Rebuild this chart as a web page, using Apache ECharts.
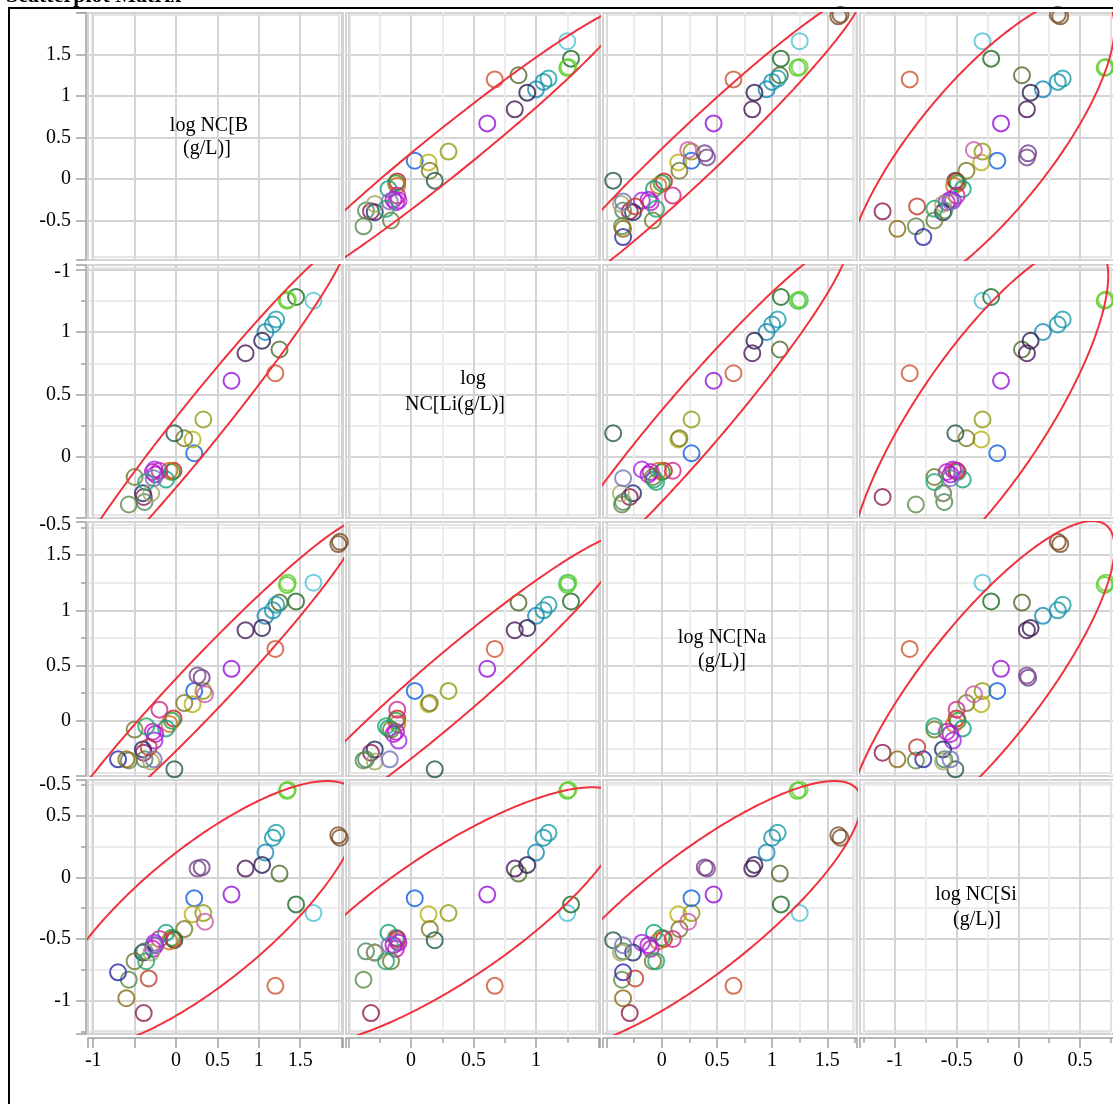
<!DOCTYPE html>
<html><head><meta charset="utf-8">
<script src="https://cdn.jsdelivr.net/npm/echarts@6/dist/echarts.min.js"></script>
<style>html,body{margin:0;padding:0;background:#fff}#c{width:1113px;height:1104px}</style>
</head><body><div id="c"></div>
<script>
// ---------- data ----------
const variableNames = ['B', 'Li', 'Na', 'Si'];
const pointColors = ['#50c0d4','#1a6a22','#50c820','#66d030','#4e6a28','#1a9ea8','#1794a8','#1888b4','#2c1c50','#4a1858',
  '#cc5530','#9410d8','#909a10','#1060e0','#b8b010','#7a7a28','#23564a','#7a4f2a','#7a4f2a','#6c3c8c',
  '#7b4a88','#c85aa8','#c81c1c','#239a35','#d07018','#12a080','#d0288c','#c814c8','#b010d8','#a428e8',
  '#1c2c6c','#8c1c50','#4a8a58','#a8a868','#7474b8','#6a7a30','#5a8a48','#20a870','#2828a8','#c03c2c','#8c6c10'];
const logB  = [1.66,1.45,1.34,1.35,1.25,1.21,1.17,1.08,1.04,0.84, 1.20,0.67,0.33,0.22,0.20,0.10,-0.02,1.96,1.98,0.31,
  0.26,0.35,-0.03,-0.05,-0.08,-0.12,-0.20,-0.28,-0.25,-0.26, -0.40,-0.39,-0.38,-0.30,-0.27,-0.50,-0.57,-0.36,-0.70,-0.33,-0.60];
const logLi = [1.25,1.28,1.25,1.26,0.86,1.10,1.06,1.00,0.93,0.83, 0.67,0.61,0.30,0.03,0.14,0.15,0.19,null,null,null,
  null,null,-0.11,-0.12,-0.11,-0.18,-0.11,-0.12,-0.14,-0.10, -0.29,-0.32,-0.36,-0.29,-0.17,-0.16,-0.38,-0.20,null,null,null];
const logNa = [1.25,1.08,1.23,1.25,1.07,1.05,1.00,0.95,0.84,0.82, 0.65,0.47,0.27,0.27,0.15,0.16,-0.44,1.60,1.62,0.39,
  0.41,0.24,0.02,0.00,-0.03,-0.07,0.10,-0.10,-0.12,-0.18, -0.26,-0.29,-0.35,-0.37,-0.35,-0.08,-0.36,-0.05,-0.35,-0.24,-0.35];
const logSi = [-0.29,-0.22,0.70,0.71,0.03,0.36,0.32,0.20,0.10,0.07, -0.88,-0.14,-0.29,-0.17,-0.30,-0.42,-0.51,0.34,0.32,0.08,
  0.07,-0.36,-0.50,-0.49,-0.52,-0.45,-0.50,-0.58,-0.55,-0.53, -0.61,-1.10,-0.60,-0.61,-0.55,-0.68,-0.83,-0.68,-0.77,-0.82,-0.98];
const diagonalLabels = [['log NC[B', '(g/L)]'], ['log', 'NC[Li(g/L)]'], ['log NC[Na', '(g/L)]'], ['log NC[Si', '(g/L)]']];
const xTickLabels = [[-1, 0, 0.5, 1, 1.5], [0, 0.5, 1], [0, 0.5, 1, 1.5], [-1, -0.5, 0, 0.5]];
const yTickLabels = [[1.5, 1, 0.5, 0, -0.5], [1, 0.5, 0], [1.5, 1, 0.5, 0], [0.5, 0, -0.5, -1]];
const edgeTickLabels = [['-1', 272], ['-0.5', 525], ['-0.5', 785]];
const titleText = 'Scatterplot Matrix';

// ---------- layout ----------
const colPx = [[88, 343], [346, 600], [603, 857], [860, 1115]];
const rowPx = [[12, 260], [265, 518], [522, 776], [780, 1034]];
const xRange = [[-1.063, 2.017], [-0.52, 1.512], [-0.532, 1.769], [-1.283, 0.784]];
const yRange = [[-0.976, 2.012], [-0.488, 1.536], [-0.501, 1.80], [-1.270, 0.788]];
const hasMinor = [false, true, true, true];
const diagPos = [[[209, 126], [207, 149]], [[473, 379], [455, 405]], [[722, 638], [722, 662]], [[976, 895], [977, 920]]];
const ELLIPSE_K = 2.4477;
const FONT = 'Liberation Serif';

const vars = [logB, logLi, logNa, logSi];

function ellipse(xs, ys) {
  const px = [], py = [];
  for (let i = 0; i < xs.length; i++) if (xs[i] != null && ys[i] != null) { px.push(xs[i]); py.push(ys[i]); }
  const n = px.length;
  const mx = px.reduce((a, b) => a + b, 0) / n, my = py.reduce((a, b) => a + b, 0) / n;
  let sxx = 0, syy = 0, sxy = 0;
  for (let i = 0; i < n; i++) { sxx += (px[i]-mx)**2; syy += (py[i]-my)**2; sxy += (px[i]-mx)*(py[i]-my); }
  sxx /= n - 1; syy /= n - 1; sxy /= n - 1;
  const a = Math.sqrt(sxx), b = sxy / a, d = Math.sqrt(Math.max(syy - b*b, 1e-12));
  const out = [];
  for (let k = 0; k <= 360; k++) {
    const t = k / 360 * 2 * Math.PI;
    out.push([mx + ELLIPSE_K * a * Math.cos(t), my + ELLIPSE_K * (b * Math.cos(t) + d * Math.sin(t))]);
  }
  return out;
}

function fmtFactory(list) {
  return function (v) {
    for (const s of list) if (Math.abs(s - v) < 1e-6) return String(s);
    return '';
  };
}

function makeAxis(dir, v, labeled, idx) {
  const rng = dir === 'x' ? xRange[v] : yRange[v];
  const span = rng[1] - rng[0];
  return {
    type: 'value', gridIndex: idx, min: rng[0], max: rng[1], splitNumber: Math.round(span / 0.5),
    position: dir === 'x' ? 'bottom' : 'left',
    offset: labeled ? (dir === 'x' ? 4 : 2) : 0,
    axisLine: { show: labeled, onZero: false, lineStyle: { color: '#a0a0a0', width: 1.5 } },
    axisTick: { show: labeled, length: 10, lineStyle: { color: '#a0a0a0', width: 1.5 } },
    minorTick: { show: labeled && hasMinor[v], splitNumber: 2, length: 5, lineStyle: { color: '#a0a0a0', width: 1.5 } },
    axisLabel: { show: labeled, margin: dir === 'x' ? 13 : 15, color: '#000', fontFamily: FONT, fontSize: 20,
      showMinLabel: true, showMaxLabel: true,
      formatter: fmtFactory(dir === 'x' ? xTickLabels[v] : yTickLabels[v]) },
    splitLine: { show: true, lineStyle: { color: '#d4d4d4', width: 2 } },
    minorSplitLine: { show: hasMinor[v], lineStyle: { color: '#ececec', width: 2 } }
  };
}

const grids = [], xAxes = [], yAxes = [], series = [], graphics = [];
for (let r = 0; r < 4; r++) {
  for (let c = 0; c < 4; c++) {
    const idx = r * 4 + c;
    grids.push({ left: colPx[c][0], top: rowPx[r][0], width: colPx[c][1] - colPx[c][0], height: rowPx[r][1] - rowPx[r][0],
      show: true, borderColor: '#a4a4a4', borderWidth: 1.5, backgroundColor: 'transparent', containLabel: false, outerBoundsMode: 'none' });
    xAxes.push(makeAxis('x', c, r === 3, idx));
    yAxes.push(makeAxis('y', r, c === 0, idx));
    if (r !== c) {
      const xs = vars[c], ys = vars[r];
      const pts = [];
      for (let i = 0; i < xs.length; i++) {
        if (xs[i] == null || ys[i] == null) continue;
        pts.push({ value: [xs[i], ys[i]], itemStyle: { color: 'rgba(0,0,0,0)', borderColor: pointColors[i], borderWidth: 2 } });
      }
      series.push({ type: 'scatter', xAxisIndex: idx, yAxisIndex: idx, symbol: 'circle', symbolSize: 16, data: pts, z: 2, silent: true });
      series.push({ type: 'line', xAxisIndex: idx, yAxisIndex: idx, data: ellipse(xs, ys), showSymbol: false, clip: true,
        lineStyle: { color: '#f0323e', width: 2 }, z: 3, silent: true });
    }
    graphics.push({ type: 'rect', silent: true, z: 1,
      shape: { x: colPx[c][0] + 4, y: rowPx[r][0] + 3, width: colPx[c][1] - colPx[c][0] - 8, height: rowPx[r][1] - rowPx[r][0] - 6 },
      style: { fill: 'none', stroke: '#dddddd', lineWidth: 1.5 } });
  }
}
for (let d = 0; d < 4; d++) {
  for (let l = 0; l < 2; l++) {
    graphics.push({ type: 'text', x: diagPos[d][l][0], y: diagPos[d][l][1], z: 10,
      style: { text: diagonalLabels[d][l], font: '20px "' + FONT + '"', fill: '#000', align: 'center', verticalAlign: 'middle' } });
  }
}
for (const [t, y] of edgeTickLabels) {
  graphics.push({ type: 'text', x: 71, y: y, z: 10,
    style: { text: t, font: '20px "' + FONT + '"', fill: '#000', align: 'right', verticalAlign: 'middle' } });
}
graphics.push({ type: 'text', x: 6, y: 7, z: 10,
  style: { text: titleText, font: 'bold 22px "' + FONT + '"', fill: '#000', align: 'left', verticalAlign: 'bottom' } });
graphics.push({ type: 'line', z: 11, shape: { x1: 9, y1: 8, x2: 9, y2: 1104 }, style: { stroke: '#000', lineWidth: 2 } });
graphics.push({ type: 'line', z: 11, shape: { x1: 8, y1: 8, x2: 1113, y2: 8 }, style: { stroke: '#000', lineWidth: 2 } });
graphics.push({ type: 'rect', z: 10, shape: { x: 8, y: 9, width: 1105, height: 3 }, style: { fill: '#fff' } });

const chart = echarts.init(document.getElementById('c'), null, { renderer: 'canvas', width: 1113, height: 1104 });
chart.setOption({
  animation: false,
  backgroundColor: '#fff',
  grid: grids, xAxis: xAxes, yAxis: yAxes, series: series, graphic: graphics
});
</script></body></html>
